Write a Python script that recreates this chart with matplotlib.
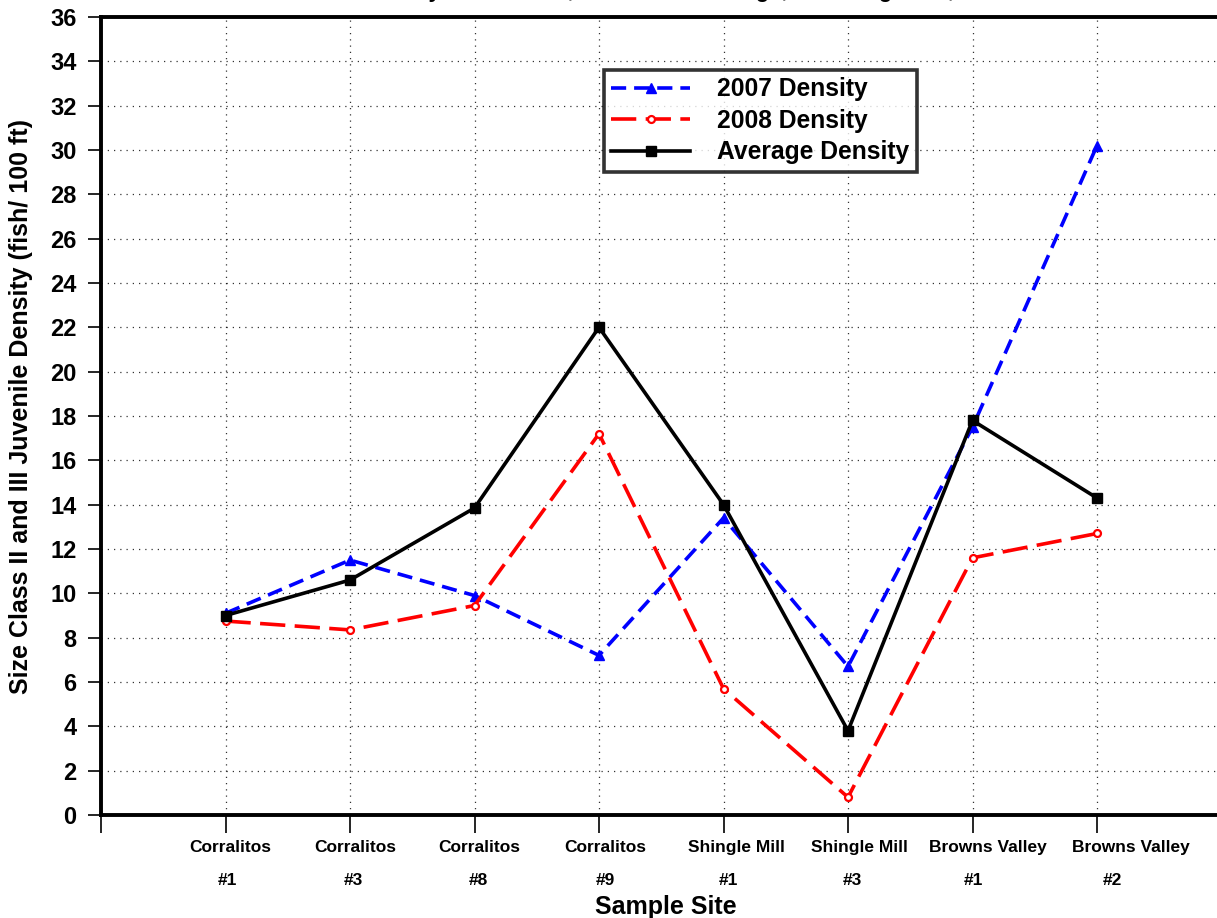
import numpy as np
import matplotlib
matplotlib.use("Agg")
import matplotlib.pyplot as plt
import matplotlib.transforms as mtransforms

# Sample sites and densities (fish / 100 ft)
site_names = ["Corralitos", "Corralitos", "Corralitos", "Corralitos",
              "Shingle Mill", "Shingle Mill", "Browns Valley", "Browns Valley"]
site_nums = ["#1", "#3", "#8", "#9", "#1", "#3", "#1", "#2"]
dens_2007 = [9.1, 11.5, 9.9, 7.2, 13.4, 6.7, 17.5, 30.2]
dens_2008 = [8.75, 8.35, 9.45, 17.2, 5.7, 0.8, 11.6, 12.7]
dens_avg = [9.0, 10.6, 13.85, 22.0, 14.0, 3.8, 17.8, 14.3]
y_ticks = np.arange(0, 37, 2)

# the category labels in the original sit a little right of their ticks (pixels)
name_dx = [5, 5, 5, 6, 13, 11, 15, 34]
num_dx = [2, 3, 4, 6, 5, 4, 1, 15]

plt.rcParams['font.family'] = ['Liberation Sans', 'DejaVu Sans']
plt.rcParams['font.weight'] = 'bold'

fig = plt.figure(figsize=(12.17, 9.18), dpi=100)
ax = fig.add_axes([101 / 1217, 1 - 815 / 918, 1130 / 1217, 798 / 918])

x = np.arange(1, len(site_names) + 1)
ax.plot(x, dens_2007, color='blue', lw=2.6, ls=(0, (4.2, 2.2)), marker='^', ms=7,
        label='2007 Density', zorder=3)
ax.plot(x, dens_2008, color='red', lw=2.6, ls=(0, (7, 2.6)), marker='o', ms=5,
        mfc='white', mew=1.6, label='2008 Density', zorder=3)
ax.plot(x, dens_avg, color='black', lw=2.6, marker='s', ms=6.5,
        label='Average Density', zorder=4)

ax.set_xlim(0, 1130 / 124.5)
ax.set_ylim(0, 36)
ax.set_yticks(y_ticks)
ax.set_yticklabels([str(v) for v in y_ticks], fontsize=17, fontweight='bold')
ax.set_xticks(np.arange(0, 9))
ax.set_xticklabels([''] + site_names, fontsize=12.5, fontweight='bold')
ax.tick_params(axis='x', direction='out', length=13, width=1.2, pad=5)
ax.tick_params(axis='y', direction='out', length=9.5, width=1.2, pad=8)

# second line of each site label ("#n")
secax = ax.secondary_xaxis('bottom')
secax.set_xticks(x)
secax.set_xticklabels(site_nums, fontsize=12.5, fontweight='bold')
secax.tick_params(length=0, pad=42)
secax.spines['bottom'].set_visible(False)

for lab, dx in zip(ax.get_xticklabels()[1:], name_dx):
    lab.set_transform(lab.get_transform() + mtransforms.ScaledTranslation(dx / 100, 0, fig.dpi_scale_trans))
for lab, dx in zip(secax.get_xticklabels(), num_dx):
    lab.set_transform(lab.get_transform() + mtransforms.ScaledTranslation(dx / 100, 0, fig.dpi_scale_trans))

ax.grid(True, ls=(0, (1, 4)), color='black', lw=0.9, alpha=0.8)
ax.set_axisbelow(True)
for s in ['left', 'bottom', 'top']:
    ax.spines[s].set_linewidth(2.8)
ax.spines['right'].set_visible(False)

ax.set_xlabel('Sample Site', fontsize=18, fontweight='bold', labelpad=29)
ax.set_ylabel('Size Class II and III Juvenile Density (fish/ 100 ft)', fontsize=18,
              fontweight='bold')
ax.yaxis.set_label_coords((33 - 101) / 1130, (815 - 407) / 798)

leg = ax.legend(loc='upper left', bbox_to_anchor=((604 - 101) / 1130, (815 - 70) / 798),
                prop={'size': 17.7, 'weight': 'bold'}, frameon=True, fancybox=False,
                handlelength=3.2, handletextpad=1.1, borderpad=0.3, labelspacing=0.3,
                borderaxespad=0)
leg.get_frame().set_edgecolor('black')
leg.get_frame().set_linewidth(2.6)

# title is cut off at the top edge in the reference
fig.text(0.56, 1 + 3 / 918, 'Corralitos Valley Creek Sites, Size Class Average, Including 2007, 2008 Results',
         ha='center', va='baseline', fontsize=16, fontweight='bold')

fig.savefig('out.png', dpi=100)
